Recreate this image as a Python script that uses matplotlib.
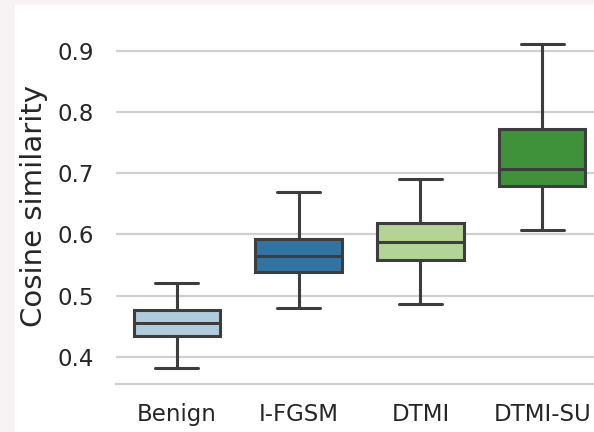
import matplotlib
matplotlib.use("Agg")
import matplotlib.pyplot as plt
import seaborn as sns
from matplotlib.patches import Rectangle

# Statistiche dei box
methods = ["Benign", "I-FGSM", "DTMI", "DTMI-SU"]
whisker_low = [0.382, 0.480, 0.487, 0.608]
q1 = [0.434, 0.538, 0.559, 0.679]
median = [0.456, 0.564, 0.587, 0.707]
q3 = [0.477, 0.592, 0.618, 0.773]
whisker_high = [0.520, 0.669, 0.690, 0.911]

palette = sns.color_palette("Paired", 4)
colors = [sns.desaturate(c, 0.75) for c in palette]
line_color = "#3d3d3d"

stats = []
for i, name in enumerate(methods):
    stats.append({
        "label": name,
        "whislo": whisker_low[i],
        "q1": q1[i],
        "med": median[i],
        "q3": q3[i],
        "whishi": whisker_high[i],
        "fliers": [],
    })

sns.set_style("whitegrid")
plt.rcParams['font.family'] = ['DejaVu Sans']

fig = plt.figure(figsize=(5.94, 4.32), dpi=100)
fig.patch.set_facecolor("#f7f2f3")
fig.patches.append(Rectangle((15 / 594, 0), 1, 1 - 5 / 432, transform=fig.transFigure,
                             facecolor="white", edgecolor="none", zorder=-10))

ax = fig.add_axes([116 / 594, 1 - 384 / 432, 487 / 594, (384 - 28) / 432])
ax.set_facecolor("white")

lw = 2.2
bp = ax.bxp(stats, positions=range(len(methods)), widths=0.71, patch_artist=True,
            showfliers=False,
            boxprops=dict(edgecolor=line_color, linewidth=lw),
            medianprops=dict(color=line_color, linewidth=lw),
            whiskerprops=dict(color=line_color, linewidth=lw),
            capprops=dict(color=line_color, linewidth=lw))
for patch, c in zip(bp["boxes"], colors):
    patch.set_facecolor(c)

ax.set_xlim(-0.5, 3.5)
ax.set_ylim(0.3555, 0.9375)
ax.set_yticks([0.4, 0.5, 0.6, 0.7, 0.8, 0.9])
ax.set_xticks(range(len(methods)))
ax.set_xticklabels(methods)
ax.grid(True, axis="y", color="#d0d0d0", linewidth=1.6)
ax.grid(False, axis="x")
for side in ["left", "right", "top"]:
    ax.spines[side].set_visible(False)
ax.spines["bottom"].set_color("#d0d0d0")
ax.spines["bottom"].set_linewidth(1.6)
ax.tick_params(axis="y", length=0, pad=16, labelsize=16.5, labelcolor="#262626")
ax.tick_params(axis="x", length=0, pad=14, labelsize=16.5, labelcolor="#262626")
ax.set_ylabel("Cosine similarity", fontsize=21, color="#262626", labelpad=7)

fig.savefig("out.png", dpi=100, facecolor=fig.get_facecolor())
